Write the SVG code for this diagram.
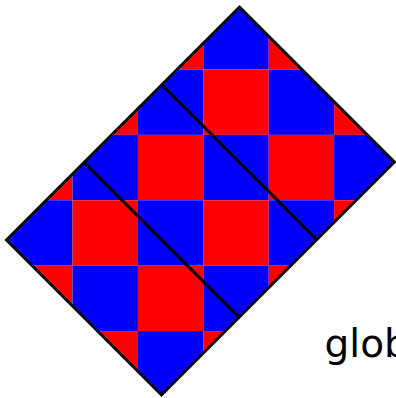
<svg xmlns="http://www.w3.org/2000/svg" width="396" height="398" viewBox="0 0 396 398">
<style>
.r{fill:#ff0000}
.b{fill:#0000ff}
.edge{fill:none;stroke:#000;stroke-width:3;stroke-linejoin:miter}
.div{stroke:#000;stroke-width:3;fill:none}
.lbl{font-family:"DejaVu Sans","Liberation Sans",sans-serif;font-size:39px;fill:#000}
</style>
<defs>
<clipPath id="clip"><polygon points="239.5,7 394.5,162 161.5,395 6.5,240"/></clipPath>
</defs>
<rect width="396" height="398" fill="#fff"/>
<g id="board" clip-path="url(#clip)">
<rect class="r" x="7.14" y="4.08" width="65.4" height="65.4"/>
<rect class="b" x="72.54" y="4.08" width="65.4" height="65.4"/>
<rect class="r" x="137.94" y="4.08" width="65.4" height="65.4"/>
<rect class="b" x="203.34" y="4.08" width="65.4" height="65.4"/>
<rect class="r" x="268.74" y="4.08" width="65.4" height="65.4"/>
<rect class="b" x="334.14" y="4.08" width="65.4" height="65.4"/>
<rect class="b" x="7.14" y="69.48" width="65.4" height="65.4"/>
<rect class="r" x="72.54" y="69.48" width="65.4" height="65.4"/>
<rect class="b" x="137.94" y="69.48" width="65.4" height="65.4"/>
<rect class="r" x="203.34" y="69.48" width="65.4" height="65.4"/>
<rect class="b" x="268.74" y="69.48" width="65.4" height="65.4"/>
<rect class="r" x="334.14" y="69.48" width="65.4" height="65.4"/>
<rect class="r" x="7.14" y="134.88" width="65.4" height="65.4"/>
<rect class="b" x="72.54" y="134.88" width="65.4" height="65.4"/>
<rect class="r" x="137.94" y="134.88" width="65.4" height="65.4"/>
<rect class="b" x="203.34" y="134.88" width="65.4" height="65.4"/>
<rect class="r" x="268.74" y="134.88" width="65.4" height="65.4"/>
<rect class="b" x="334.14" y="134.88" width="65.4" height="65.4"/>
<rect class="b" x="7.14" y="200.28" width="65.4" height="65.4"/>
<rect class="r" x="72.54" y="200.28" width="65.4" height="65.4"/>
<rect class="b" x="137.94" y="200.28" width="65.4" height="65.4"/>
<rect class="r" x="203.34" y="200.28" width="65.4" height="65.4"/>
<rect class="b" x="268.74" y="200.28" width="65.4" height="65.4"/>
<rect class="r" x="334.14" y="200.28" width="65.4" height="65.4"/>
<rect class="r" x="7.14" y="265.68" width="65.4" height="65.4"/>
<rect class="b" x="72.54" y="265.68" width="65.4" height="65.4"/>
<rect class="r" x="137.94" y="265.68" width="65.4" height="65.4"/>
<rect class="b" x="203.34" y="265.68" width="65.4" height="65.4"/>
<rect class="r" x="268.74" y="265.68" width="65.4" height="65.4"/>
<rect class="b" x="334.14" y="265.68" width="65.4" height="65.4"/>
<rect class="b" x="7.14" y="331.08" width="65.4" height="65.4"/>
<rect class="r" x="72.54" y="331.08" width="65.4" height="65.4"/>
<rect class="b" x="137.94" y="331.08" width="65.4" height="65.4"/>
<rect class="r" x="203.34" y="331.08" width="65.4" height="65.4"/>
<rect class="b" x="268.74" y="331.08" width="65.4" height="65.4"/>
<rect class="r" x="334.14" y="331.08" width="65.4" height="65.4"/>
</g>
<g id="dividers">
<line class="div" x1="84.17" y1="162.33" x2="239.17" y2="317.33"/>
<line class="div" x1="161.83" y1="84.67" x2="316.83" y2="239.67"/>
</g>
<g id="outline">
<polygon class="edge" points="239.5,7 394.5,162 161.5,395 6.5,240"/>
</g>
<text class="lbl" x="324.6" y="357">glob</text>
</svg>
